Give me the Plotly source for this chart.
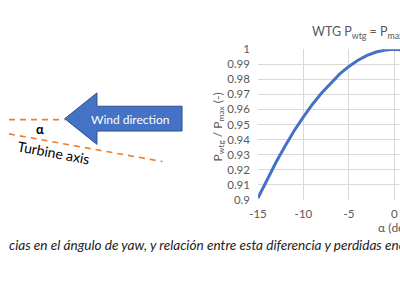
import plotly.graph_objects as go

# Data
alpha_deg = [-15, -14, -13, -12, -11, -10, -9, -8, -7, -6, -5, -4, -3, -2, -1, 0, 1, 2]
p_ratio = [0.9012, 0.9135, 0.9251, 0.9359, 0.9460, 0.9551, 0.9635, 0.9709, 0.9775, 0.9836,
           0.9886, 0.9927, 0.9959, 0.9982, 0.9995, 1.0, 0.9995, 0.9982]
x_ticks = [-15, -10, -5, 0]
x_ticktext = ["-15", "-10", "-5", "0"]
y_ticks = [0.9, 0.91, 0.92, 0.93, 0.94, 0.95, 0.96, 0.97, 0.98, 0.99, 1.0]
y_ticktext = ["0.9", "0.91", "0.92", "0.93", "0.94", "0.95", "0.96", "0.97", "0.98", "0.99", "1"]

W, H = 400, 284


def px(x, y):
    return x / W, 1 - y / H


fig = go.Figure()
fig.add_trace(go.Scatter(x=alpha_deg, y=p_ratio, mode="lines",
                         line=dict(color="#4472C4", width=3),
                         showlegend=False, hoverinfo="skip"))

FONT = "Lato, Open Sans, sans-serif"
GRAY = "#595959"

fig.update_layout(
    width=W, height=H,
    margin=dict(l=0, r=0, t=0, b=0),
    paper_bgcolor="white", plot_bgcolor="white",
    font=dict(family=FONT, color=GRAY, size=12),
    xaxis=dict(domain=[254.7 / W, 1], range=[-15, 0.62], tickvals=x_ticks, ticktext=x_ticktext,
               showgrid=True, gridcolor="#D9D9D9", gridwidth=1, zeroline=False,
               showline=False, ticks="", ticklabelstandoff=6,
               tickfont=dict(size=11.5, color=GRAY)),
    yaxis=dict(domain=[1 - 202 / H, 1 - 44.3 / H], range=[0.9, 1.0],
               tickvals=y_ticks, ticktext=y_ticktext,
               showgrid=True, gridcolor="#D9D9D9", gridwidth=1, zeroline=False,
               showline=False, ticks="", ticklabelstandoff=7,
               tickfont=dict(size=11.5, color=GRAY)),
)

shapes = []
# Arrow (Wind direction)
pts = [(57, 117), (90, 90), (90, 104), (177, 104), (177, 130), (90, 130), (90, 144)]
path = "M " + " L ".join(f"{px(a, b)[0]:.4f},{px(a, b)[1]:.4f}" for a, b in pts) + " Z"
shapes.append(dict(type="path", xref="paper", yref="paper", path=path,
                   fillcolor="#4472C4", line=dict(color="#2F528F", width=1)))
# Dashed lines
for (x0, y0), (x1, y1) in [((0, 118), (57, 118)), ((0, 133), (157, 162))]:
    a0, b0 = px(x0, y0)
    a1, b1 = px(x1, y1)
    shapes.append(dict(type="line", xref="paper", yref="paper", x0=a0, y0=b0, x1=a1, y1=b1,
                       line=dict(color="#ED7D31", width=1.6, dash="6px,5px")))
fig.update_layout(shapes=shapes)

ann = []


def add_text(text, x, y, size, color, xanchor="center", angle=0, family=FONT):
    a, b = px(x, y)
    ann.append(dict(text=text, x=a, y=b, xref="paper", yref="paper", showarrow=False,
                    xanchor=xanchor, yanchor="middle", textangle=angle,
                    font=dict(size=size, color=color, family=family)))


add_text("Wind direction", 124, 118, 12, "white")
add_text("<b>α</b>", 32, 128, 13, "black")
add_text("Turbine axis", 46, 153, 14, "black", angle=10.5)
add_text("WTG P<sub>wtg</sub> = P<sub>max</sub>cos<sup>3</sup>(α)", 308, 26, 12.5, GRAY, xanchor="left")
add_text("P<sub>wtg</sub> / P<sub>max</sub> (-)", 214, 126, 12, GRAY, angle=-90)
add_text("α (deg)", 375, 231, 12, GRAY, xanchor="left")
add_text("<i>cias en el ángulo de yaw, y relación entre esta diferencia y perdidas energéticas</i>",
         -2, 249, 13.6, "#222222", xanchor="left")
fig.update_layout(annotations=ann)

fig.write_html("out.html")
